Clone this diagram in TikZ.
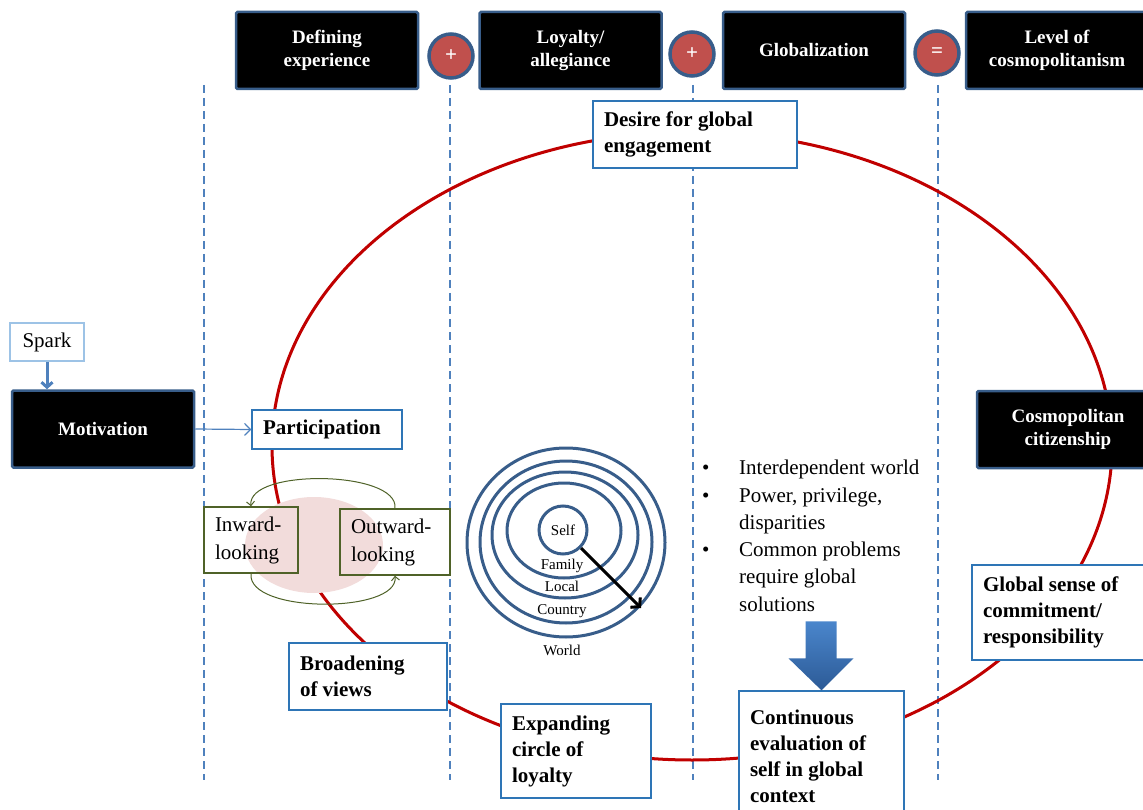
\documentclass[tikz,border=0pt]{standalone}
\usepackage{fontspec}
\setmainfont{Liberation Serif}
\usetikzlibrary{arrows.meta}
\definecolor{hdrframe}{RGB}{56,93,138}
\definecolor{opred}{RGB}{192,80,77}
\definecolor{sepblue}{RGB}{79,129,189}
\definecolor{stageblue}{RGB}{46,117,182}
\definecolor{sparkblue}{RGB}{157,195,230}
\definecolor{orbitred}{RGB}{192,0,0}
\definecolor{olivegreen}{RGB}{79,98,40}
\definecolor{lookpink}{RGB}{242,220,219}
\definecolor{shaftlight}{RGB}{74,134,204}
\definecolor{shaftdark}{RGB}{44,90,150}
\tikzstyle{factor}=[rectangle, draw=hdrframe, fill=black, line width=2.5pt, rounded corners=1.5pt, text=white, align=center, minimum width=182pt, minimum height=77pt, font=\bfseries\fontsize{19}{23}\selectfont]
\tikzstyle{operator}=[circle, draw=hdrframe, fill=opred, line width=3.5pt, minimum size=44pt, inner sep=0pt, text=white, font=\bfseries\fontsize{21}{21}\selectfont]
\tikzstyle{stage}=[rectangle, draw=stageblue, fill=white, line width=1.3pt, align=flush left, inner xsep=11pt, font=\bfseries\fontsize{21}{26}\selectfont]
\tikzstyle{look}=[rectangle, draw=olivegreen, line width=1.5pt, align=flush left, inner xsep=11pt, minimum height=66pt, font=\fontsize{21}{28}\selectfont]
\tikzstyle{ring}=[draw=hdrframe, line width=3pt]
\tikzstyle{ringlabel}=[inner sep=0pt, font=\fontsize{15}{15}\selectfont]
\newcommand{\factorbox}{\node[factor]}
\newcommand{\stagebox}{\node[stage]}

\begin{document}
\begin{tikzpicture}[x=1pt, y=-1pt
    ,sep/.style={draw=sepblue, line width=2.2pt, dash pattern=on 8pt off 5pt}
    ,orbit/.style={draw=orbitred, line width=3pt}
    ,swing/.style={draw=olivegreen, line width=1pt, -{Straight Barb[length=4pt,width=8pt]}}
    ,feed/.style={draw=sepblue, line width=1.2pt, -{Straight Barb[length=6pt,width=12pt]}}
    ,kick/.style={draw=sepblue, line width=3pt, -{Straight Barb[length=5pt,width=11pt]}}
    ,reach/.style={draw=black, line width=3pt, -{Straight Barb[length=6pt,width=14pt]}}
]
\useasboundingbox (0,0) rectangle (1143,810);
\foreach \x in {204,450,693,938} \draw[sep] (\x,85) -- (\x,780);
\draw[orbit] (692,446) ellipse [x radius=420, y radius=314];
\fill[lookpink] (314,545) ellipse [x radius=69, y radius=48];

\factorbox (def) at (327,50.5) {Defining\\experience};
\factorbox (loy) at (570.5,50.5) {Loyalty/\\allegiance};
\factorbox (glob) at (814,50.5) {Globalization};
\factorbox (lvl) at (1057,50.5) {Level of\\cosmopolitanism};
\node[operator] (plus1) at (451,56) {+};
\node[operator] (plus2) at (692,54) {+};
\node[operator] (eq) at (937,53) {=};

\node[draw=sparkblue, line width=1.5pt, minimum width=74pt, minimum height=38pt, font=\fontsize{21}{21}\selectfont] (spark) at (47,342) {Spark};
\factorbox (mot) at (103,429) {Motivation};
\factorbox (cit) at (1068,429.5) {Cosmopolitan\\citizenship};

\stagebox[text width=182pt, minimum height=67pt] (desire) at (695,134.5) {Desire for global\\engagement};
\stagebox[text width=128pt, minimum height=39pt] (part) at (327,429.5) {Participation};
\stagebox[text width=136pt, minimum height=67pt] (broad) at (368,676.5) {Broadening\\of views};
\stagebox[text width=128pt, minimum height=94pt] (expand) at (576,751) {Expanding\\circle of\\loyalty};
\stagebox[text width=143pt, minimum height=130pt] (cont) at (821.5,756) {Continuous\\evaluation of\\self in global\\context};
\stagebox[text width=156pt, minimum height=95pt] (global) at (1061,612.5) {Global sense of\\commitment/\\responsibility};

\node[look, text width=72pt] (inward) at (251,540) {Inward-\\looking};
\node[look, text width=88pt] (outward) at (395,542) {Outward-\\looking};

\foreach \cx/\cy/\rx/\ry in {566/542.5/99/94.5, 566/542/86/81, 565/535/73/63, 564/530.5/57/47.5}
    \draw[ring] (\cx,\cy) ellipse [x radius=\rx, y radius=\ry];
\node[ring, circle, minimum size=48pt, inner sep=0pt, font=\fontsize{15}{15}\selectfont] (self) at (563,530) {Self};
\node[ringlabel] (family) at (562,566) {Family};
\node[ringlabel] (local) at (562,586) {Local};
\node[ringlabel] (country) at (562,611) {Country};
\node[ringlabel] (world) at (562,650) {World};
\coordinate (reachend) at (641,608);

\node[anchor=north west, inner sep=0pt, text width=240pt, align=flush left, font=\fontsize{21}{27.3}\selectfont] (facts) at (702,460)
    {\makebox[37pt][l]{\textbullet}Interdependent world\\
     \makebox[37pt][l]{\textbullet}Power, privilege,\\
     \hspace*{37pt}disparities\\
     \makebox[37pt][l]{\textbullet}Common problems\\
     \hspace*{37pt}require global\\
     \hspace*{37pt}solutions};

\shade[top color=shaftlight, bottom color=shaftdark] (cont.north) -- ++(-33,-32) -- ++(17,0) -- ++(0,-37)
    -- ++(31,0) -- ++(0,37) -- ++(17,0) -- cycle;

\draw[kick] (spark.south) -- (spark.south |- mot.north);
\draw[feed] (mot.east) -- (part.west);
\draw[swing] (outward.north) .. controls +(4,-38) and +(-4,-38) .. (inward.north);
\draw[swing] (inward.south) .. controls +(-4,40) and +(4,38) .. (outward.south);
\draw[reach] (self) -- (reachend);
\end{tikzpicture}
\end{document}
